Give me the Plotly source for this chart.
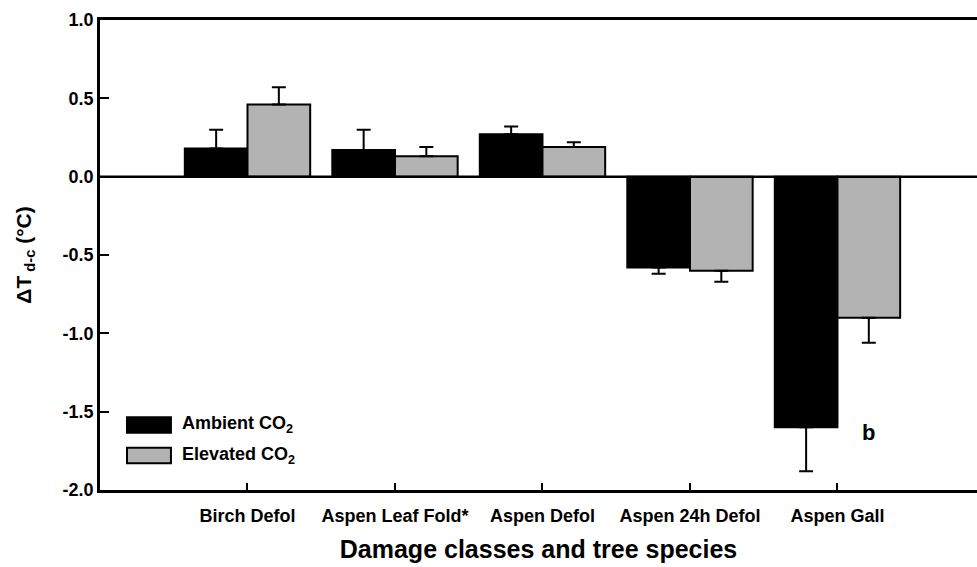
import plotly.graph_objects as go

categories = ["Birch Defol", "Aspen Leaf Fold*", "Aspen Defol", "Aspen 24h Defol", "Aspen Gall"]
ambient = [0.18, 0.17, 0.27, -0.58, -1.60]
ambient_err = [0.12, 0.13, 0.05, 0.04, 0.28]
elevated = [0.46, 0.13, 0.19, -0.60, -0.90]
elevated_err = [0.11, 0.06, 0.03, 0.07, 0.16]
y_ticks = [-2.0, -1.5, -1.0, -0.5, 0.0, 0.5, 1.0]

FONT = "Liberation Sans, Arial, sans-serif"
xpos = list(range(len(categories)))

def err_dict(vals, errs):
    up = [e if v >= 0 else 0 for v, e in zip(vals, errs)]
    down = [e if v < 0 else 0 for v, e in zip(vals, errs)]
    return dict(type="data", symmetric=False, array=up, arrayminus=down,
                color="black", thickness=2, width=7)

fig = go.Figure()
fig.add_trace(go.Bar(x=xpos, y=ambient, name="Ambient CO<sub>2</sub>",
                     marker=dict(color="black", line=dict(color="black", width=2)),
                     error_y=err_dict(ambient, ambient_err)))
fig.add_trace(go.Bar(x=xpos, y=elevated, name="Elevated CO<sub>2</sub>",
                     marker=dict(color="#b3b3b3", line=dict(color="black", width=2)),
                     error_y=err_dict(elevated, elevated_err)))

# zero line
fig.add_shape(type="line", xref="paper", yref="y", x0=0, x1=1, y0=0, y1=0,
              line=dict(color="black", width=2.5))

# custom legend
legend_items = [("Ambient CO<sub>2</sub>", "black"), ("Elevated CO<sub>2</sub>", "#b3b3b3")]
for i, (label, col) in enumerate(legend_items):
    yc = -1.585 - i * 0.195
    fig.add_shape(type="rect", xref="x", yref="y", x0=-0.817, x1=-0.519,
                  y0=yc - 0.05, y1=yc + 0.05, fillcolor=col,
                  line=dict(color="black", width=2))
    fig.add_annotation(x=-0.455, y=yc, xref="x", yref="y", text=label, showarrow=False,
                       xanchor="left", yanchor="middle",
                       font=dict(family=FONT, size=18, color="black"))

fig.add_annotation(x=4.21, y=-1.635, xref="x", yref="y", text="<b>b</b>", showarrow=False,
                   font=dict(family=FONT, size=22, color="black"))

fig.update_layout(
    width=977, height=567,
    margin=dict(l=100, r=0, t=20, b=77),
    plot_bgcolor="white", paper_bgcolor="white",
    barmode="group", bargap=0.15, bargroupgap=0,
    showlegend=False,
    font=dict(family=FONT, color="black"),
    xaxis=dict(range=[-1, 4.946], tickmode="array", tickvals=xpos, ticktext=categories,
               ticks="inside", ticklen=7, tickwidth=2, tickcolor="black",
               showline=True, linecolor="black", linewidth=2.5, mirror=True,
               showgrid=False, zeroline=False, tickangle=0, ticklabelstandoff=8,
               tickfont=dict(family=FONT, size=18, color="black"),
               title=dict(text="Damage classes and tree species", standoff=16,
                          font=dict(family=FONT, size=25, color="black"))),
    yaxis=dict(range=[-2.0, 1.0], tickmode="array", tickvals=y_ticks,
               ticktext=[f"{t:.1f}" for t in y_ticks],
               ticks="inside", ticklen=9, tickwidth=2, tickcolor="black",
               showline=True, linecolor="black", linewidth=2.5,
               showgrid=False, zeroline=False,
               tickfont=dict(family=FONT, size=18, color="black"),
               title=dict(text="ΔT<sub> d-c</sub> (°C)", standoff=26,
                          font=dict(family=FONT, size=21, color="black"))),
)
fig.update_xaxes(tickfont_weight="bold", title_font_weight="bold")
fig.update_yaxes(tickfont_weight="bold", title_font_weight="bold")
for a in fig.layout.annotations:
    a.font.weight = "bold"

fig.write_html("out.html", config={"displayModeBar": False},
               post_script="document.body.style.margin='0';")
